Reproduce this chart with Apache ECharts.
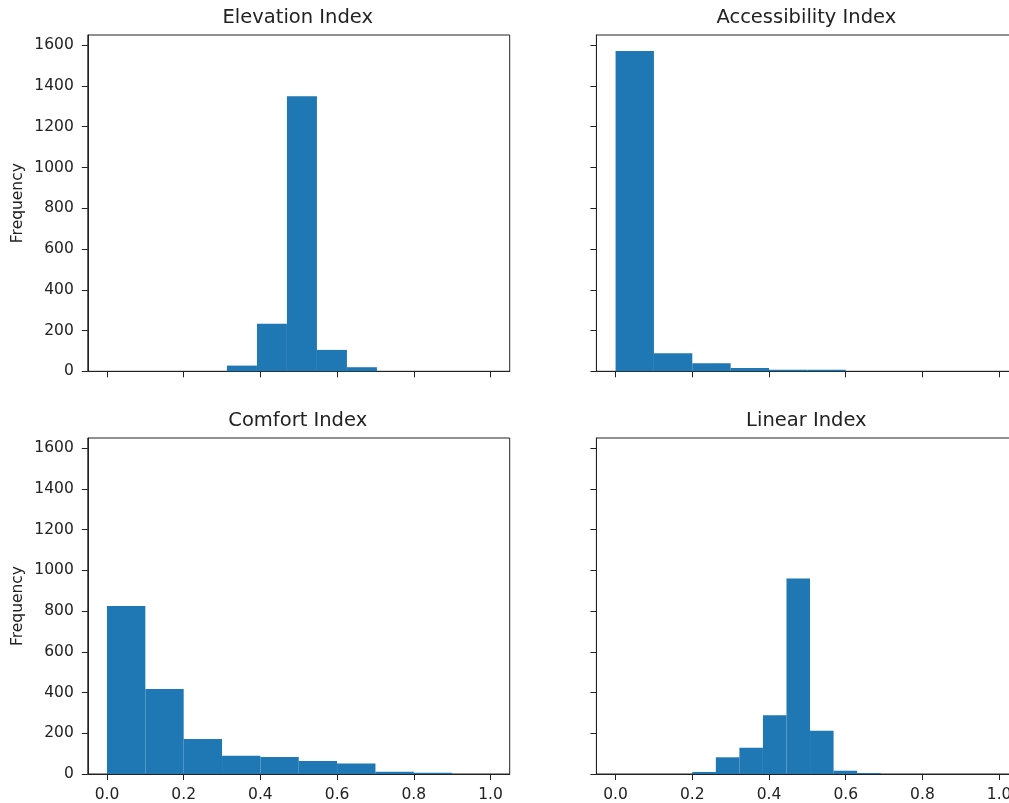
<!DOCTYPE html>
<html>
<head>
<meta charset="utf-8">
<script src="https://cdn.jsdelivr.net/npm/echarts@6/dist/echarts.min.js"></script>
<style>
html,body{margin:0;padding:0;background:#fff;overflow:hidden;}
#chart{width:1030px;height:803px;}
</style>
</head>
<body>
<div id="chart"></div>
<script>
// Panel titles
const titles = ['Elevation Index', 'Accessibility Index', 'Comfort Index', 'Linear Index'];

// Histogram bin edges (left edges + final right edge) and counts per panel
const elevationEdges = [0.3128, 0.3910, 0.4692, 0.5474, 0.6256, 0.7038];
const elevationCounts = [28, 233, 1349, 105, 20];

const accessibilityEdges = [0.0, 0.1, 0.2, 0.3, 0.4, 0.5, 0.6];
const accessibilityCounts = [1572, 88, 39, 16, 8, 8];

const comfortEdges = [0.0, 0.1, 0.2, 0.3, 0.4, 0.5, 0.6, 0.7, 0.8, 0.9];
const comfortCounts = [825, 418, 172, 90, 83, 64, 52, 11, 6];

const linearEdges = [0.2, 0.2614, 0.3228, 0.3842, 0.4456, 0.5070, 0.5684, 0.6298, 0.6912];
const linearCounts = [10, 82, 129, 288, 960, 212, 16, 5];

// Tick labels
const xTicks = [0.0, 0.2, 0.4, 0.6, 0.8, 1.0];
const yTicks = [0, 200, 400, 600, 800, 1000, 1200, 1400, 1600];
const xRange = [-0.05, 1.05];
const yMax = 1650;

function toBins(edges, counts) {
  return counts.map((c, i) => [edges[i], edges[i + 1], c]);
}
const panels = [
  toBins(elevationEdges, elevationCounts),
  toBins(accessibilityEdges, accessibilityCounts),
  toBins(comfortEdges, comfortCounts),
  toBins(linearEdges, linearCounts)
];

const gridW = 421.9, gridH = 336.3;
const lefts = [87.8, 596.4];
const tops = [35, 438];
const textColor = '#222';
const font = 'DejaVu Sans';

const grids = [], xAxes = [], yAxes = [], series = [], titleEls = [];
for (let i = 0; i < 4; i++) {
  const col = i % 2, row = Math.floor(i / 2);
  grids.push({
    left: lefts[col], top: tops[row], width: gridW, height: gridH,
    show: true, borderColor: '#222', borderWidth: 1, backgroundColor: 'transparent'
  });
  xAxes.push({
    type: 'value', gridIndex: i, min: xRange[0], max: xRange[1],
    splitLine: { show: false },
    axisLine: { show: true, onZero: false, lineStyle: { color: '#222', width: 1 } },
    axisTick: { show: true, length: 6, customValues: xTicks, lineStyle: { color: '#222' } },
    axisLabel: {
      show: row === 1, customValues: xTicks, color: textColor, fontFamily: font, fontSize: 15.5, margin: 13,
      formatter: v => v.toFixed(1)
    }
  });
  yAxes.push({
    type: 'value', gridIndex: i, min: 0, max: yMax,
    name: col === 0 ? 'Frequency' : '',
    nameLocation: 'middle', nameGap: 62, nameRotate: 90,
    nameTextStyle: { color: textColor, fontFamily: font, fontSize: 15.5 },
    splitLine: { show: false },
    axisLine: { show: true, onZero: false, lineStyle: { color: '#222', width: 1 } },
    axisTick: { show: true, length: 6, customValues: yTicks, lineStyle: { color: '#222' } },
    axisLabel: {
      show: col === 0, customValues: yTicks, color: textColor, fontFamily: font, fontSize: 15.5, margin: 14,
      formatter: v => String(Math.round(v))
    }
  });
  series.push({
    type: 'custom', xAxisIndex: i, yAxisIndex: i,
    data: panels[i],
    encode: { x: [0, 1], y: 2 },
    renderItem: function (params, api) {
      const p0 = api.coord([api.value(0), 0]);
      const p1 = api.coord([api.value(1), api.value(2)]);
      return {
        type: 'rect',
        shape: { x: p0[0], y: p1[1], width: p1[0] - p0[0], height: p0[1] - p1[1] },
        style: { fill: '#1f77b4' }
      };
    }
  });
  titleEls.push({
    type: 'text',
    x: lefts[col] + gridW / 2 - 1,
    y: tops[row] - 17,
    style: {
      text: titles[i], fill: textColor, font: '19.5px "DejaVu Sans"',
      align: 'center', verticalAlign: 'middle'
    }
  });
}

const chart = echarts.init(document.getElementById('chart'), null, { renderer: 'canvas' });
chart.setOption({
  animation: false,
  backgroundColor: '#fff',
  graphic: titleEls,
  grid: grids,
  xAxis: xAxes,
  yAxis: yAxes,
  series: series
});
</script>
</body>
</html>
